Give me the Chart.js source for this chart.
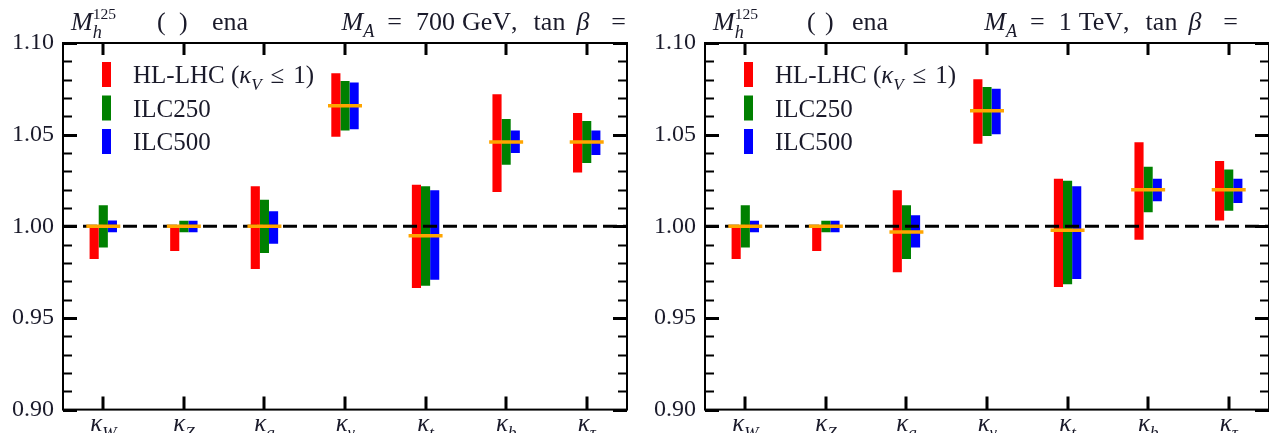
<!DOCTYPE html>
<html>
<head>
<meta charset="utf-8">
<script src="https://cdn.jsdelivr.net/npm/chart.js@4.4.1/dist/chart.umd.min.js"></script>
<style>
  html, body { margin: 0; padding: 0; background: #fff; overflow: hidden; }
  body { width: 1269px; height: 433px; position: relative; }
  .panel { position: absolute; top: 0; width: 640px; height: 433px; }
  #panel-700 { left: 0; }
  #panel-1000 { left: 642px; }
</style>
</head>
<body>
<div class="panel" id="panel-700"><canvas id="chart-700"></canvas></div>
<div class="panel" id="panel-1000"><canvas id="chart-1000"></canvas></div>
<script>
// ── Data ────────────────────────────────────────────────────────────
// couplings on the x axis (subscript of kappa)
const couplings = ["W", "Z", "g", "γ", "t", "b", "τ"];
const yLabelTicks = ["0.90", "0.95", "1.00", "1.05", "1.10"];
const experiments = ["HL-LHC", "ILC250", "ILC500"];

// M_A = 700 GeV
const central700   = [1.000, 1.000, 1.000, 1.0658, 0.9949, 1.046, 1.046];
const hllhcLow700  = [0.9822, 0.9865, 0.9767, 1.0489, 0.9664, 1.0187, 1.0294];
const hllhcHigh700 = [1.000, 1.000, 1.0218, 1.0835, 1.0227, 1.0721, 1.0618];
const ilc250Low700  = [0.9884, 0.9967, 0.9855, 1.0522, 0.9676, 1.0336, 1.0345];
const ilc250High700 = [1.0115, 1.003, 1.0145, 1.0793, 1.0218, 1.0585, 1.0574];
const ilc500Low700  = [0.9967, 0.9967, 0.9905, 1.0530, 0.9709, 1.0400, 1.0389];
const ilc500High700 = [1.0031, 1.003, 1.0082, 1.0784, 1.0196, 1.0523, 1.0523];

// M_A = 1 TeV
const central1000   = [1.000, 1.000, 0.9969, 1.063, 0.9978, 1.020, 1.020];
const hllhcLow1000  = [0.9822, 0.9865, 0.9749, 1.045, 0.9669, 0.9927, 1.0031];
const hllhcHigh1000 = [1.000, 1.000, 1.0196, 1.0802, 1.026, 1.0459, 1.0356];
const ilc250Low1000  = [0.9884, 0.9967, 0.9822, 1.0493, 0.9684, 1.0076, 1.0085];
const ilc250High1000 = [1.0115, 1.003, 1.0115, 1.076, 1.0249, 1.0325, 1.031];
const ilc500Low1000  = [0.9967, 0.9967, 0.9884, 1.0502, 0.9713, 1.0136, 1.0127];
const ilc500High1000 = [1.003, 1.003, 1.006, 1.075, 1.0218, 1.026, 1.026];

// ── Helpers ─────────────────────────────────────────────────────────
const SERIF = '"Liberation Serif", "Times New Roman", serif';
const INK = "#1a1a2a";
const COLORS = ["#ff0000", "#008000", "#0000ff"];

// small rich-text renderer: parts are {t, i, s, dy, hold} or {gap}
function rich(ctx, parts, x, y, size, draw) {
	let cx = x;
	for (const p of parts) {
		if (p.gap) { cx += p.gap; continue; }
		ctx.font = (p.i ? "italic " : "") + size * (p.s || 1) + "px " + SERIF;
		if (draw) ctx.fillText(p.t, cx, y + (p.dy || 0) * size);
		if (!p.hold) cx += ctx.measureText(p.t).width;
	}
	return cx - x;
}

const pair = (lo, hi) => lo.map((v, i) => [v, hi[i]]);

function legendParts(i) {
	if (i === 0) {
		return [{ t: "HL-LHC (" }, { t: "κ", i: 1 }, { t: "V", i: 1, s: 0.68, dy: 0.28 },
			{ gap: 9 }, { t: "≤" }, { gap: 9 }, { t: "1)" }];
	}
	return [{ t: experiments[i] }];
}

// frame, inward ticks, reference line, labels, legend and header
const decorPlugin = {
	id: "decor",
	afterDatasetDraw(chart, args) {
		if (args.index !== 0) return; // last bar set drawn, orange marks follow
		const { ctx, chartArea: a, scales: { y } } = chart;
		const py = y.getPixelForValue(1.0);
		ctx.save();
		ctx.strokeStyle = "#000";
		ctx.lineWidth = 3;
		ctx.setLineDash([14, 6]);
		ctx.beginPath();
		ctx.moveTo(a.left, py);
		ctx.lineTo(a.right, py);
		ctx.stroke();
		ctx.restore();
	},
	afterDraw(chart, args, opts) {
		const { ctx, chartArea: a, scales: { x, y } } = chart;
		ctx.save();
		ctx.strokeStyle = "#000";

		// y ticks on both sides, pointing in
		for (const t of y.ticks) {
			const py = Math.round(y.getPixelForValue(t.value)) + 0.5;
			const major = yLabelTicks.includes(t.value.toFixed(2));
			const len = major ? 14 : 9;
			ctx.lineWidth = major ? 3 : 1.8;
			ctx.beginPath();
			ctx.moveTo(a.left, py); ctx.lineTo(a.left + len, py);
			ctx.moveTo(a.right, py); ctx.lineTo(a.right - len, py);
			ctx.stroke();
		}
		// x ticks top and bottom
		ctx.lineWidth = 3;
		couplings.forEach((c, i) => {
			const px = Math.round(x.getPixelForValue(i));
			ctx.beginPath();
			ctx.moveTo(px, a.top); ctx.lineTo(px, a.top + 12);
			ctx.moveTo(px, a.bottom); ctx.lineTo(px, a.bottom - 13);
			ctx.stroke();
		});
		// frame
		ctx.lineWidth = 2;
		ctx.strokeRect(a.left, a.top, a.right - a.left, a.bottom - a.top);

		ctx.fillStyle = INK;
		ctx.textBaseline = "alphabetic";

		// x labels: kappa with subscript
		couplings.forEach((c, i) => {
			const parts = [{ t: "κ", i: 1 }, { t: c, i: 1, s: 0.68, dy: 0.28 }];
			const w = rich(ctx, parts, 0, 0, 25, false);
			rich(ctx, parts, x.getPixelForValue(i) - w / 2, 431, 25, true);
		});

		// legend
		experiments.forEach((e, i) => {
			const top = 62 + i * 33.5;
			ctx.fillStyle = COLORS[i];
			ctx.fillRect(102, top, 9, 25);
			ctx.fillStyle = INK;
			rich(ctx, legendParts(i), 133, top + 21, 25, true);
		});

		// header
		rich(ctx, [{ t: "M", i: 1 }, { t: "h", i: 1, s: 0.7, dy: 0.3, hold: 1 }, { t: "125", s: 0.6, dy: -0.44 }],
			a.left + 8, 30, 26, true);
		rich(ctx, [{ t: "(" }], opts.paren[0], 30, 26, true);
		rich(ctx, [{ t: ")" }], opts.paren[1], 30, 26, true);
		rich(ctx, [{ t: "ena" }], opts.enaX, 30, 26, true);
		const head = [{ t: "M", i: 1 }, { t: "A", i: 1, s: 0.7, dy: 0.28 }, { gap: 13 }, { t: "=" }, { gap: 14 },
			{ t: opts.mass }, { gap: 7 }, { t: opts.unit }, { t: "," }, { gap: 16 }, { t: "tan" }, { gap: 11 },
			{ t: "β", i: 1 }, { gap: 22 }, { t: "=" }];
		const hw = rich(ctx, head, 0, 0, 26, false);
		rich(ctx, head, opts.headEnd - hw, 30, 26, true);
		ctx.restore();
	},
};

function makeChart(id, lowHigh, central, decor) {
	return new Chart(document.getElementById(id), {
		type: "bar",
		data: {
			labels: couplings,
			datasets: [
				...experiments.map((e, i) => ({
					label: e,
					data: pair(lowHigh[i][0], lowHigh[i][1]),
					backgroundColor: COLORS[i],
					borderWidth: 0,
					barPercentage: 1.0,
					categoryPercentage: 0.34,
					order: 0,
				})),
				{
					type: "line",
					label: "central",
					data: central,
					showLine: false,
					pointStyle: "line",
					pointRadius: 17,
					pointHoverRadius: 17,
					borderColor: "#ffa500",
					borderWidth: 3.5,
					order: -1,
				},
			],
		},
		options: {
			responsive: true,
			maintainAspectRatio: false,
			animation: false,
			layout: { autoPadding: false, padding: { top: 43, right: 13, bottom: 23, left: 0 } },
			plugins: {
				legend: { display: false },
				tooltip: { enabled: false },
				decor: decor,
			},
			scales: {
				x: {
					grid: { display: false, drawTicks: false },
					border: { display: false },
					ticks: { display: false },
					afterFit: (s) => { s.height = 0; },
				},
				y: {
					min: 0.9,
					max: 1.1,
					grid: { display: false, drawTicks: false },
					border: { display: false },
					afterFit: (s) => { s.width = 63; },
					ticks: {
						stepSize: 0.01,
						autoSkip: false,
						padding: 9,
						color: INK,
						font: { family: SERIF, size: 24 },
						callback: (v) => {
							const s = Number(v).toFixed(2);
							return yLabelTicks.includes(s) ? s : "";
						},
					},
				},
			},
		},
		plugins: [decorPlugin],
	});
}

makeChart("chart-700",
	[[hllhcLow700, hllhcHigh700], [ilc250Low700, ilc250High700], [ilc500Low700, ilc500High700]],
	central700,
	{ paren: [157, 179], enaX: 212, mass: "700", unit: "GeV", headEnd: 626 });

makeChart("chart-1000",
	[[hllhcLow1000, hllhcHigh1000], [ilc250Low1000, ilc250High1000], [ilc500Low1000, ilc500High1000]],
	central1000,
	{ paren: [165, 183], enaX: 210, mass: "1", unit: "TeV", headEnd: 596 });
</script>
</body>
</html>
